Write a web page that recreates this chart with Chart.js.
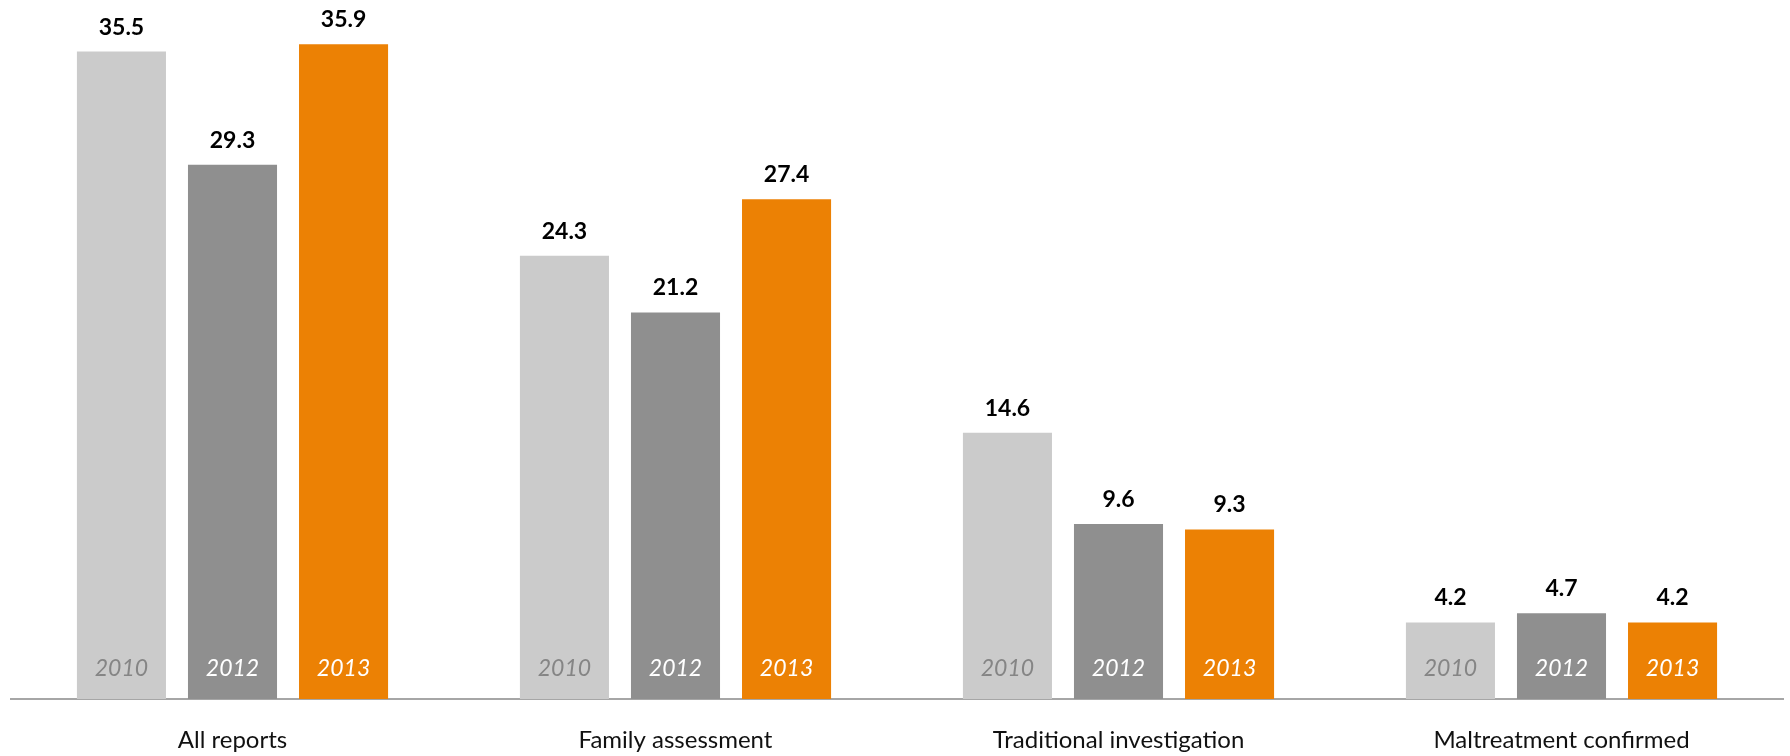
<!DOCTYPE html>
<html>
<head>
<meta charset="utf-8">
<script src="https://cdn.jsdelivr.net/npm/chart.js@4"></script>
<style>
  body { margin: 0; background: #fff; }
  #wrap { width: 1790px; height: 756px; position: relative; }
</style>
</head>
<body>
<div id="wrap"><canvas id="barChart"></canvas></div>
<script>
// Chart data
const categories = ['All reports', 'Family assessment', 'Traditional investigation', 'Maltreatment confirmed'];
const years = ['2010', '2012', '2013'];
const values2010 = [35.5, 24.3, 14.6, 4.2];
const values2012 = [29.3, 21.2, 9.6, 4.7];
const values2013 = [35.9, 27.4, 9.3, 4.2];

const barColors = ['#cbcbcb', '#8f8f8f', '#ec8104'];
const yearColors = ['#858585', '#ffffff', '#ffffff'];

// draws the value above each bar and the year inside it
const barLabels = {
    id: 'barLabels',
    afterDatasetsDraw(chart) {
        const ctx = chart.ctx;
        const bottom = chart.chartArea.bottom;
        chart.data.datasets.forEach((ds, i) => {
            const meta = chart.getDatasetMeta(i);
            meta.data.forEach((bar, j) => {
                ctx.save();
                ctx.textAlign = 'center';
                ctx.textBaseline = 'alphabetic';
                ctx.fillStyle = '#000';
                ctx.font = 'bold 23px Lato';
                ctx.fillText(ds.data[j].toFixed(1), bar.x, bar.y - 17);

                ctx.textBaseline = 'middle';
                ctx.fillStyle = yearColors[i];
                ctx.font = 'italic 23px Lato';
                ctx.fillText(ds.label, bar.x, bottom - 30);
                ctx.restore();
            });
        });
    }
};

const ctx = document.getElementById('barChart').getContext('2d');
const barChart = new Chart(ctx, {
    type: 'bar',
    data: {
        labels: categories,
        datasets: [
            { label: years[0], data: values2010, backgroundColor: barColors[0] },
            { label: years[1], data: values2012, backgroundColor: barColors[1] },
            { label: years[2], data: values2013, backgroundColor: barColors[2] }
        ]
    },
    options: {
        responsive: true,
        maintainAspectRatio: false,
        animation: false,
        categoryPercentage: 0.752,
        barPercentage: 0.802,
        layout: {
            padding: { top: 6, right: 7, bottom: 0, left: 11 }
        },
        plugins: {
            legend: { display: false },
            tooltip: { enabled: false }
        },
        scales: {
            x: {
                grid: { display: false },
                border: { display: true, color: '#a6a6a6', width: 2 },
                ticks: {
                    color: '#111',
                    padding: 19,
                    font: { family: 'Lato', size: 24 }
                },
                afterFit(scale) {
                    scale.height = 57; // keeps the baseline at y = 699
                }
            },
            y: {
                display: false,
                min: 0,
                max: 38
            }
        }
    },
    plugins: [barLabels]
});
</script>
</body>
</html>
